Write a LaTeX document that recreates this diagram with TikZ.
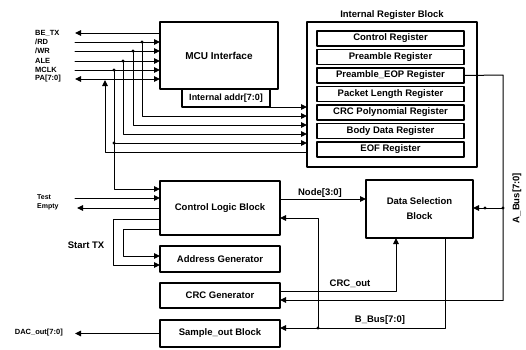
\documentclass[tikz,border=0pt]{standalone}
\usepackage{fontspec}
\setmainfont{Liberation Sans}
\usetikzlibrary{arrows.meta}
\begin{document}
\begin{tikzpicture}[x=1pt, y=-1pt, line cap=round, line join=round,
  >={Triangle[length=6pt,width=5.5pt]},
  blk/.style={draw, line width=2pt, anchor=north west, inner sep=0pt, outer sep=0pt,
    minimum width=120pt, font=\fontsize{9.5}{15}\selectfont\bfseries},
  reg/.style={draw, line width=1.1pt, minimum width=147pt, minimum height=15pt,
    inner sep=0pt, outer sep=0pt, font=\fontsize{9.5}{11}\selectfont\bfseries},
  sig/.style={line width=1pt},
  lbl/.style={inner sep=1pt, font=\fontsize{9.5}{11}\selectfont\bfseries},
  pin/.style={anchor=west, inner sep=0pt, font=\fontsize{7.5}{7.5}\selectfont\bfseries},
  dot/.style={circle, fill, inner sep=0pt, minimum size=3.4pt}]
  \useasboundingbox (0,0) rectangle (526,349);
  \node[blk, minimum width=118pt, minimum height=67pt, font=\fontsize{10}{12}\selectfont\bfseries] (mcu) at (160,22) {MCU Interface};
  \node[draw, line width=1.1pt, anchor=north west, minimum width=88pt, minimum height=18pt, inner sep=0pt, outer sep=0pt, font=\fontsize{9}{11}\selectfont\bfseries] (addr) at (182,89) {Internal addr[7:0]};
  \node[blk, minimum width=170pt, minimum height=145pt] (regblk) at (307,22) {};
  \node[lbl, above=1pt] (regttl) at (regblk.north) {Internal Register Block};
  \foreach \i/\t in {0/Control Register, 1/Preamble Register, 2/Preamble\_EOP Register,
    3/Packet Length Register, 4/CRC Polynomial Register, 5/Body Data Register, 6/EOF Register}
    \node[reg] (r\i) at (390.5,38.5+18.5*\i) {\t};
  \node[blk, minimum height=54pt] (clb) at (160,181) {Control Logic Block};
  \node[blk, minimum height=26pt] (agen) at (160,246) {Address Generator};
  \node[blk, minimum height=25pt] (crcg) at (160,283) {CRC Generator};
  \node[blk, minimum height=27pt] (samp) at (160,320) {Sample\_out Block};
  \node[blk, minimum width=107pt, minimum height=58pt, align=center] (dsel) at (366,180) {Data Selection\\Block};

  \node[pin] (lbetx) at (35,33) {BE\_TX};
  \node[pin] (lrd) at (35,42) {/RD};
  \node[pin] (lwr) at (35,51) {/WR};
  \node[pin] (lale) at (35,61) {ALE};
  \node[pin] (lmclk) at (35,70) {MCLK};
  \node[pin] (lpa) at (35,79) {PA[7:0]};
  \node[pin, font=\fontsize{7}{7}\selectfont\bfseries] (ltest) at (37,197) {Test};
  \node[pin, font=\fontsize{7}{7}\selectfont\bfseries] (lempty) at (37,207) {Empty};
  \node[pin, anchor=east] (ldac) at (63,333) {DAC\_out[7:0]};
  \node[lbl] (lstart) at (86,245) {Start TX};

  \coordinate (betx) at (75,33);
  \draw[sig,->] (betx -| mcu.west) -- (betx);
  \foreach \s/\ya/\x/\yb in {rd/42/142/116, wr/51/133/125, ale/61/123/134, mclk/70/114/143}{
    \coordinate (\s) at (75,\ya);
    \coordinate (\s-top) at (\x,\ya);
    \coordinate (\s-bot) at (\x,\yb);
    \draw[sig,->] (\s) -- (\s -| mcu.west);
    \draw[sig,->] (\s-top) -- (\s-bot) -- (\s-bot -| regblk.west);
    \node[dot] at (\s-top) {};
  }
  \coordinate (pa) at (75,79);
  \coordinate (paj) at (105,80);
  \coordinate (pab) at (105,152);
  \draw[sig,<->] (pa) -- (pa -| mcu.west);
  \draw[sig,->] (pab -| regblk.west) -- (pab) -- (paj);
  \draw[sig,->] (addr.south east) -- (addr.south east -| regblk.west);
  \coordinate (mclkc) at (114,189);
  \draw[sig,->] (mclk-bot) -- (mclkc) -- (mclkc -| clb.west);
  \node[dot] at (mclk-bot) {};

  \coordinate (test) at (75,198);
  \coordinate (empty) at (77,208);
  \draw[sig,->] (test) -- (test -| clb.west);
  \draw[sig,->] (empty -| clb.west) -- (empty);
  \coordinate (sta) at (113,219);
  \coordinate (stab) at (113,265);
  \coordinate (stb) at (123,229);
  \coordinate (stbb) at (123,256);
  \draw[sig,->] (sta -| clb.west) -- (sta) -- (stab) -- (stab -| agen.west);
  \draw[sig,->] (stb -| clb.west) -- (stb) -- (stbb) -- (stbb -| agen.west);
  \draw[sig,->] (samp.west) -- (samp.west -| test);

  \coordinate (nd) at (320,199);
  \draw[sig,->] (clb.east |- nd) -- (dsel.west |- nd);
  \node[lbl, above=0pt] (lnode) at (nd) {Node[3:0]};
  \coordinate (bj) at (318,328);
  \coordinate (bu) at (318,218);
  \draw[sig,->] (bj) -- (bu) -- (bu -| clb.east);
  \node[dot] at (bj) {};
  \coordinate (bb) at (445,328);
  \draw[sig,->] (dsel.south -| bb) -- (bb) -- (bb -| samp.east);
  \node[lbl] (lbbus) at (380,320) {B\_Bus[7:0]};
  \coordinate (co) at (396,291);
  \draw[sig,->] (crcg.east |- co) -- (co) -- (co |- dsel.south);
  \node[lbl] (lcrc) at (350,284) {CRC\_out};

  \coordinate (ab) at (503,75);
  \coordinate (abj) at (503,208);
  \coordinate (abb) at (503,300);
  \draw[sig] (r2.east) -- (ab) -- (abb);
  \draw[sig,->] (abb) -- (abb -| crcg.east);
  \draw[sig,->] (abj) -- (abj -| dsel.east);
  \node[dot] at (abj) {};
  \node[dot] at (485,208) {};
  \node[lbl, rotate=90] (labus) at (517,198) {A\_Bus[7:0]};
\end{tikzpicture}
\end{document}
